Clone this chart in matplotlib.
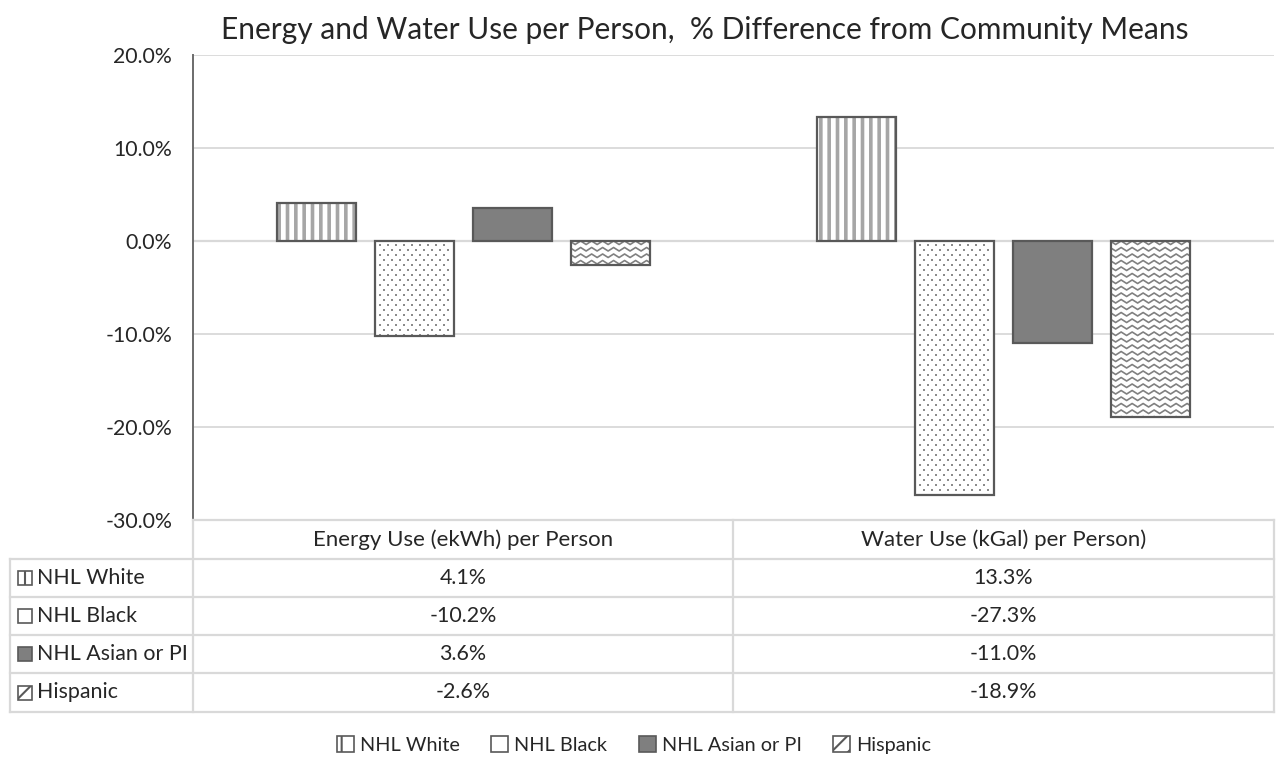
import numpy as np
import matplotlib
matplotlib.use("Agg")
import matplotlib.pyplot as plt
from matplotlib.patches import Rectangle, Patch

plt.rcParams['font.family'] = ['Lato', 'DejaVu Sans']

categories = ["Energy Use (ekWh) per Person", "Water Use (kGal) per Person)"]
groups = ["NHL White", "NHL Black", "NHL Asian or PI", "Hispanic"]
white = [4.1, 13.3]
black = [-10.2, -27.3]
asian = [3.6, -11.0]
hispanic = [-2.6, -18.9]
series = [white, black, asian, hispanic]
yticks = [-30, -20, -10, 0, 10, 20]

W, H = 1276, 761
fig = plt.figure(figsize=(W / 100, H / 100), dpi=100)

# plot area in pixels
x0, x1, ytop, ybot = 193, 1274, 55, 520
ax = fig.add_axes([x0 / W, 1 - ybot / H, (x1 - x0) / W, (ybot - ytop) / H])

EDGE = "#595959"
HATCHC = "#a6a6a6"
GRID = "#d9d9d9"
TXT = "#262626"

plt.rcParams['hatch.linewidth'] = 2.6

styles = [
    dict(face="white", hatch="||"),
    dict(face="white", hatch=None),
    dict(face="#7f7f7f", hatch=None),
    dict(face="white", hatch=None),
]

xc = np.arange(len(categories))
bw = 79 / 541
step = 98 / 541
ax.set_xlim(-0.5, 1.5)
ax.set_ylim(-30, 20)
px_x = 1 / 541
px_y = 10 / 93

for i, (vals, st) in enumerate(zip(series, styles)):
    xs = xc + (i - 1.5) * step
    # hatch layer first, then outline on top
    fill = ax.bar(xs, vals, bw, color=st["face"], edgecolor=HATCHC if st["hatch"] else st["face"],
                  hatch=st["hatch"], linewidth=0, zorder=3)
    ax.bar(xs, vals, bw, fill=False, edgecolor=EDGE, linewidth=1.6, zorder=4)
    for rect in fill.patches:
        bx, by = rect.get_x(), rect.get_y()
        bwid, bh = rect.get_width(), rect.get_height()
        ylo, yhi = min(by, by + bh), max(by, by + bh)
        if i == 1:
            # sparse dotted fill
            k = 0
            yrow = yhi - 4 * px_y
            while yrow > ylo:
                off = 4 * px_x if k % 2 else 0
                dx = np.arange(bx + 5 * px_x + off, bx + bwid - 2 * px_x, 8 * px_x)
                pts = ax.scatter(dx, np.full(len(dx), yrow), s=2.2, marker="s",
                                 color="#8c8c8c", linewidths=0, zorder=3.5)
                pts.set_clip_path(rect)
                yrow -= 5 * px_y
                k += 1
        if i == 3:
            # wavy fill pattern, clipped to each bar
            xx = np.arange(bx - 12 * px_x, bx + bwid + 12 * px_x, 5.5 * px_x)
            yy_off = np.where(np.arange(len(xx)) % 2 == 0, 0, 3.5 * px_y)
            yrow = yhi
            while yrow > ylo - 8 * px_y:
                ln, = ax.plot(xx, yrow - yy_off, color="#808080", lw=1.2, zorder=3.5)
                ln.set_clip_path(rect)
                yrow -= 6.5 * px_y

ax.set_yticks(yticks)
ax.set_yticklabels([f"{t:.1f}%" for t in yticks], fontsize=15.3, color=TXT)
ax.tick_params(axis="y", length=0, pad=15)
ax.set_xticks([])
ax.yaxis.grid(True, color=GRID, linewidth=1.3, zorder=0)
ax.set_axisbelow(True)
for s in ["top", "right", "bottom"]:
    ax.spines[s].set_visible(False)
ax.spines["left"].set_color("#6b6b6b")
ax.spines["left"].set_linewidth(1.4)
ax.axhline(0, color=GRID, lw=1.6, zorder=2)

fig.text(705 / W, 1 - 30 / H, "Energy and Water Use per Person,  % Difference from Community Means",
         ha="center", va="center", fontsize=21.5, color=TXT)

# data table under the plot
ov = fig.add_axes([0, 0, 1, 1], facecolor="none")
ov.set_xlim(0, W)
ov.set_ylim(H, 0)
ov.axis("off")

rows_y = [520, 559, 597, 635, 673, 712]
colx = [10, 193, 733, 1274]
lc = dict(color=GRID, lw=1.6)
ov.plot([colx[1], colx[3]], [rows_y[0]] * 2, **lc)
for y in rows_y[1:]:
    ov.plot([colx[0], colx[3]], [y, y], **lc)
ov.plot([colx[0]] * 2, [rows_y[1], rows_y[-1]], **lc)
ov.plot([colx[1]] * 2, [rows_y[0], rows_y[-1]], **lc)
ov.plot([colx[2]] * 2, [rows_y[0], rows_y[-1]], **lc)
ov.plot([colx[3]] * 2, [rows_y[0], rows_y[-1]], **lc)

FS = 15.4
for j, cat in enumerate(categories):
    cx = (colx[j + 1] + colx[j + 2]) / 2
    ov.text(cx, (rows_y[0] + rows_y[1]) / 2, cat, ha="center", va="center", fontsize=FS + 0.6, color=TXT)

plt.rcParams['hatch.linewidth'] = 1.5
marker_styles = [
    dict(face="white", hatch="|"),
    dict(face="white", hatch=None),
    dict(face="#7f7f7f", hatch=None),
    dict(face="white", hatch="//"),
]

for r, (name, vals, ms) in enumerate(zip(groups, series, marker_styles)):
    cy = (rows_y[r + 1] + rows_y[r + 2]) / 2
    ov.add_patch(Rectangle((18, cy - 7), 14, 14, facecolor=ms["face"], edgecolor=EDGE,
                           hatch=ms["hatch"], lw=1.2))
    ov.text(37, cy, name, ha="left", va="center", fontsize=FS, color=TXT)
    for j, v in enumerate(vals):
        cx = (colx[j + 1] + colx[j + 2]) / 2
        ov.text(cx, cy, f"{v:.1f}%", ha="center", va="center", fontsize=FS, color=TXT)

handles = [Patch(facecolor=ms["face"], edgecolor=EDGE, hatch=ms["hatch"], lw=1.2) for ms in marker_styles]
fig.legend(handles, groups, loc="center", bbox_to_anchor=(634 / W, 1 - 745 / H), ncol=4,
           frameon=False, fontsize=14.3, handlelength=0.85, handleheight=0.85, handletextpad=0.3,
           columnspacing=1.6, labelcolor=TXT)

fig.savefig("out.png", dpi=100)
